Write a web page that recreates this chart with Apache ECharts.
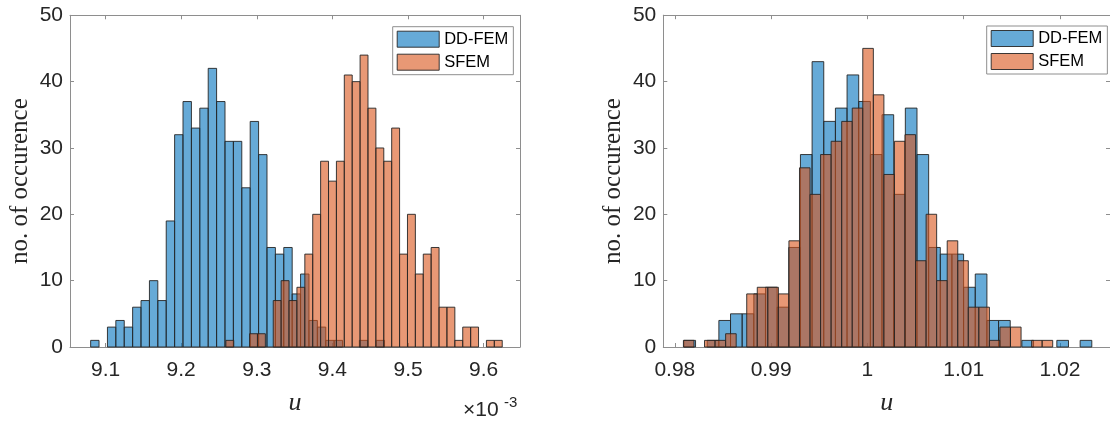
<!DOCTYPE html>
<html>
<head>
<meta charset="utf-8">
<script src="https://cdn.jsdelivr.net/npm/echarts@6/dist/echarts.min.js"></script>
<style>
  html, body { margin: 0; padding: 0; background: #ffffff; }
  #chart { width: 1110px; height: 421px; }
</style>
</head>
<body>
<div id="chart"></div>
<script>
// ---- Data -----------------------------------------------------------------
// Histograms of 500 samples of u for each method, 35 equal-width bins each.

// Left panel (u in units of 1e-3)
const leftDdfemCounts = [1, 0, 3, 4, 3, 6, 7, 10, 7, 19, 32, 37, 33, 36, 42, 37, 31, 31, 24, 34,
                         29, 15, 14, 15, 8, 11, 4, 3, 1, 1, 0, 0, 1, 0, 1];
const leftSfemCounts  = [1, 0, 0, 2, 2, 0, 7, 10, 7, 9, 14, 20, 28, 25, 28, 41, 40, 44, 36, 30,
                         28, 33, 14, 20, 11, 14, 15, 6, 6, 1, 3, 3, 0, 1, 1];
const leftDdfemEdges  = [9.0803, 9.4689];   // first and last bin edge
const leftSfemEdges   = [9.2591, 9.6245];
const leftXRange      = [9.053, 9.648];
const leftXTicks      = [9.1, 9.2, 9.3, 9.4, 9.5, 9.6];

// Right panel
const rightDdfemCounts = [1, 0, 1, 4, 5, 5, 8, 9, 6, 15, 29, 43, 34, 36, 41, 37, 29, 35, 23, 36,
                          29, 15, 14, 14, 9, 11, 4, 4, 0, 1, 0, 0, 1, 0, 1];
const rightSfemCounts  = [1, 0, 1, 1, 2, 0, 8, 9, 9, 8, 16, 27, 23, 29, 31, 34, 36, 45, 38, 26,
                          31, 32, 13, 20, 10, 16, 13, 6, 6, 1, 3, 3, 0, 1, 1];
const rightDdfemEdges  = [0.98094, 1.02331];
const rightSfemEdges   = [0.98089, 1.01925];
const rightXRange      = [0.9788, 1.0252];
const rightXTicks      = [0.98, 0.99, 1, 1.01, 1.02];

const yRange       = [0, 50];
const yTickStep    = 10;
const seriesNames  = ['DD-FEM', 'SFEM'];
const yTitle       = 'no. of occurence';
const xTitle       = 'u';
const leftExponent = ['\u00d710', '-3'];

// ---- Styles ---------------------------------------------------------------
const BLUE = 'rgba(0,114,189,0.6)';
const ORANGE = 'rgba(217,83,25,0.6)';
const EDGE = 'rgba(38,38,38,0.9)';
const AXIS = '#8e8e8e';
const TEXT = '#262626';
const SANS = '"Liberation Sans", Arial, Helvetica, sans-serif';
const SERIF = '"Liberation Serif", "Times New Roman", serif';
const TICK_FONT = 21;

// evenly spaced bin edges between first and last edge
function binEdges(range, n) {
  const w = (range[1] - range[0]) / n;
  const e = [];
  for (let i = 0; i <= n; i++) e.push(range[0] + i * w);
  return e;
}

function histSeries(name, range, counts, color, axisIndex) {
  const edges = binEdges(range, counts.length);
  const data = counts.map((c, i) => [edges[i], edges[i + 1], c]);
  return {
    type: 'custom',
    name: name,
    xAxisIndex: axisIndex * 2,
    yAxisIndex: axisIndex * 2,
    data: data,
    encode: { x: [0, 1], y: 2 },
    itemStyle: { color: color, borderColor: EDGE },
    silent: true,
    renderItem: function (params, api) {
      const c = api.value(2);
      if (!c) return { type: 'group', children: [] };
      const p0 = api.coord([api.value(0), c]);
      const p1 = api.coord([api.value(1), 0]);
      return {
        type: 'rect',
        shape: { x: p0[0], y: p0[1], width: p1[0] - p0[0], height: p1[1] - p0[1] },
        style: { fill: color, stroke: EDGE, lineWidth: 1 }
      };
    }
  };
}

function xAxisPair(gridIndex, range, ticks, fmt) {
  const common = {
    type: 'value', gridIndex: gridIndex, min: range[0], max: range[1],
    axisLine: { show: true, onZero: false, lineStyle: { color: AXIS, width: 1 } },
    axisTick: { show: true, inside: true, length: 4, customValues: ticks, lineStyle: { color: AXIS } },
    splitLine: { show: false }
  };
  return [
    Object.assign({}, common, {
      position: 'bottom',
      axisLabel: { customValues: ticks, formatter: fmt, color: TEXT, fontSize: TICK_FONT, fontFamily: SANS, margin: 13 },
      name: xTitle, nameLocation: 'middle', nameGap: 43,
      nameTextStyle: { fontFamily: SERIF, fontStyle: 'italic', fontSize: 26, color: TEXT }
    }),
    Object.assign({}, common, { position: 'top', axisLabel: { show: false } })
  ];
}

function yAxisPair(gridIndex) {
  const common = {
    type: 'value', gridIndex: gridIndex, min: yRange[0], max: yRange[1], interval: yTickStep,
    axisLine: { show: true, onZero: false, lineStyle: { color: AXIS, width: 1 } },
    axisTick: { show: true, inside: true, length: 4, lineStyle: { color: AXIS } },
    splitLine: { show: false }
  };
  return [
    Object.assign({}, common, {
      position: 'left',
      axisLabel: { color: TEXT, fontSize: TICK_FONT, fontFamily: SANS, margin: 7 },
      name: yTitle, nameLocation: 'middle', nameGap: 37,
      nameTextStyle: { fontFamily: SERIF, fontSize: 25, color: TEXT }
    }),
    Object.assign({}, common, { position: 'right', axisLabel: { show: false } })
  ];
}

function legendAt(left, top) {
  return {
    left: left, top: top, orient: 'vertical',
    itemWidth: 42, itemHeight: 16, itemGap: 6, padding: [4, 5, 4, 4],
    borderColor: AXIS, borderWidth: 1, backgroundColor: '#ffffff',
    selectedMode: false,
    textStyle: { fontFamily: SANS, fontSize: 16.5, color: '#000000' },
    data: [
      { name: seriesNames[0], icon: 'rect', itemStyle: { color: BLUE, borderColor: EDGE, borderWidth: 1 } },
      { name: seriesNames[1], icon: 'rect', itemStyle: { color: ORANGE, borderColor: EDGE, borderWidth: 1 } }
    ]
  };
}

const chart = echarts.init(document.getElementById('chart'), null, { renderer: 'canvas' });

chart.setOption({
  animation: false,
  backgroundColor: '#ffffff',
  grid: [
    { left: 70, top: 15.3, width: 450, height: 335.7 },
    { left: 663.3, top: 15.2, width: 450, height: 340.8 }
  ],
  xAxis: [
    ...xAxisPair(0, leftXRange, leftXTicks, v => v.toFixed(1)),
    ...xAxisPair(1, rightXRange, rightXTicks, v => String(+v.toFixed(2)))
  ],
  yAxis: [
    ...yAxisPair(0),
    ...yAxisPair(1)
  ],
  legend: [legendAt(392.7, 26.7), legendAt(986.7, 26)],
  series: [
    histSeries(seriesNames[0], leftDdfemEdges, leftDdfemCounts, BLUE, 0),
    histSeries(seriesNames[1], leftSfemEdges, leftSfemCounts, ORANGE, 0),
    histSeries(seriesNames[0], rightDdfemEdges, rightDdfemCounts, BLUE, 1),
    histSeries(seriesNames[1], rightSfemEdges, rightSfemCounts, ORANGE, 1)
  ],
  graphic: [
    { type: 'text', left: 463, top: 400, style: { text: leftExponent[0], font: TICK_FONT + 'px ' + SANS, fill: TEXT } },
    { type: 'text', left: 504, top: 395, style: { text: leftExponent[1], font: '15px ' + SANS, fill: TEXT } }
  ]
});
</script>
</body>
</html>
